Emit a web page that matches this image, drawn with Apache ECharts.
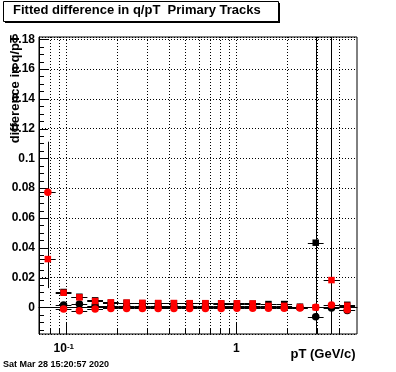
<!DOCTYPE html>
<html><head><meta charset="utf-8">
<script src="https://cdn.jsdelivr.net/npm/echarts@6/dist/echarts.min.js"></script>
<style>html,body{margin:0;padding:0;background:#fff}#c{width:396px;height:372px}</style>
</head><body><div id="c"></div>
<script>
// ---- data ----
const BIN_EDGES = [0.07, 0.08665, 0.10727, 0.13281, 0.16442, 0.2035, 0.25196, 0.31188, 0.38604, 0.47793, 0.5916, 0.73227, 0.90662, 1.1223, 1.3895, 1.72, 2.1294, 2.6362, 3.2637, 4.0404, 5.0];
const BIN_CENTERS = [0.0779, 0.0964, 0.1194, 0.1478, 0.1829, 0.2264, 0.2803, 0.347, 0.4296, 0.5318, 0.6583, 0.8149, 1.0087, 1.2489, 1.546, 1.9138, 2.3692, 2.9329, 3.6306, 4.4944];

const BLACK_SQ     = [null, 0.0103, 0.0071, 0.0047, 0.0031, 0.0030, 0.0028, 0.0027, 0.0027, 0.0026, 0.0026, 0.0025, 0.0025, 0.0024, 0.0022, 0.0022, 0.0004, 0.0434, null, 0.0017];
const BLACK_SQ_ERR = [null, 0.0012, 0.0008, 0.0006, 0.0005, 0.0005, 0.0005, 0.0005, 0.0005, 0.0005, 0.0005, 0.0005, 0.0005, 0.0006, 0.0006, 0.0007, 0.0008, 0.15, null, 0.0012];
const BLACK_CI     = [null, 0.0015, 0.0022, 0.0012, 0.0009, 0.0009, 0.0009, 0.0009, 0.0009, 0.0009, 0.0009, 0.0009, 0.0009, 0.0009, 0.0000, 0.0000, -0.0001, -0.0063, -0.0005, -0.0021];
const BLACK_CI_ERR = [null, 0.0010, 0.0008, 0.0005, 0.0004, 0.0004, 0.0004, 0.0004, 0.0004, 0.0004, 0.0004, 0.0004, 0.0004, 0.0005, 0.0005, 0.0006, 0.0008, 0.0015, 0.0015, 0.0012];
const RED_SQ       = [0.0324, 0.0098, 0.0067, 0.0042, 0.0033, 0.0032, 0.0030, 0.0029, 0.0029, 0.0028, 0.0028, 0.0027, 0.0027, 0.0026, 0.0010, 0.0010, 0.0002, 0.0000, 0.0183, 0.0011];
const RED_SQ_ERR   = [0.0195, 0.0012, 0.0008, 0.0006, 0.0005, 0.0005, 0.0005, 0.0005, 0.0005, 0.0005, 0.0005, 0.0005, 0.0005, 0.0006, 0.0006, 0.0007, 0.0008, 0.0012, 0.18, 0.0012];
const RED_CI       = [0.0772, -0.0011, -0.0023, -0.0011, -0.0007, -0.0007, -0.0007, -0.0007, -0.0007, -0.0007, -0.0007, -0.0007, -0.0006, -0.0006, -0.0006, -0.0006, -0.0005, 0.0000, 0.0015, -0.0017];
const RED_CI_ERR   = [0.034, 0.0010, 0.0008, 0.0005, 0.0004, 0.0004, 0.0004, 0.0004, 0.0004, 0.0004, 0.0004, 0.0004, 0.0004, 0.0005, 0.0005, 0.0006, 0.0008, 0.0012, 0.0015, 0.0012];

const Y_TICK_LABELS = ['0', '0.02', '0.04', '0.06', '0.08', '0.1', '0.12', '0.14', '0.16', '0.18'];
const Y_MAJOR_TICKS = [0, 0.02, 0.04, 0.06, 0.08, 0.1, 0.12, 0.14, 0.16, 0.18];
const Y_MINOR_TICKS = [-0.015, -0.01, -0.005, 0.005, 0.01, 0.015, 0.025, 0.03, 0.035, 0.045, 0.05, 0.055, 0.065, 0.07, 0.075, 0.085, 0.09, 0.095, 0.105, 0.11, 0.115, 0.125, 0.13, 0.135, 0.145, 0.15, 0.155, 0.165, 0.17, 0.175];
const X_MAJOR_TICKS = [0.1, 1];
const X_MINOR_TICKS = [0.08, 0.09, 0.2, 0.3, 0.4, 0.5, 0.6, 0.7, 0.8, 0.9, 2, 3, 4];
const X_TICK_LABELS = {'0.1': '{b|10}{s|-1}', '1': '{b|1}'};

const TITLE = 'Fitted difference in q/pT  Primary Tracks';
const X_TITLE = 'pT (GeV/c)';
const Y_TITLE = 'difference in q/pT';
const DATE = 'Sat Mar 28 15:20:57 2020';

// ---- config ----
const X_MIN = 0.0691, X_MAX = 5.13, Y_MIN = -0.0179, Y_MAX = 0.1815;
const FONT = '"Liberation Sans", Arial, Helvetica, sans-serif';

function pts(vals) {
  const out = [];
  vals.forEach((v, i) => { if (v !== null) out.push([BIN_CENTERS[i], v]); });
  return out;
}
function errPts(vals, errs) {
  const out = [];
  vals.forEach((v, i) => { if (v !== null) out.push([BIN_CENTERS[i], v, BIN_EDGES[i], BIN_EDGES[i + 1], errs[i]]); });
  return out;
}
function errSeries(vals, errs) {
  return {
    type: 'custom', clip: true, silent: true, z: 3,
    data: errPts(vals, errs), encode: {x: 0, y: 1},
    renderItem(params, api) {
      const x = api.value(0), y = api.value(1), lo = api.value(2), hi = api.value(3), e = api.value(4);
      const pL = api.coord([lo, y]), pR = api.coord([hi, y]);
      const pT = api.coord([x, y + e]), pB = api.coord([x, y - e]);
      const yy = Math.round(pL[1]) + 0.5, xx = Math.round(pT[0]) + 0.5;
      return {type: 'group', children: [
        {type: 'line', shape: {x1: pL[0], y1: yy, x2: pR[0], y2: yy}, style: {stroke: '#000', lineWidth: 1}},
        {type: 'line', shape: {x1: xx, y1: pT[1], x2: xx, y2: pB[1]}, style: {stroke: '#000', lineWidth: 1}}
      ]};
    }
  };
}
function markSeries(vals, symbol, size, color, z) {
  return {type: 'scatter', data: pts(vals), symbol, symbolSize: size, z, silent: true,
    itemStyle: {color, borderWidth: 0, opacity: 1}};
}

const xTickData = X_MAJOR_TICKS.map(v => [v, Y_MIN, 1]).concat(X_MINOR_TICKS.map(v => [v, Y_MIN, 0]));
const yTickData = Y_MAJOR_TICKS.map(v => [X_MIN, v, 1]).concat(Y_MINOR_TICKS.map(v => [X_MIN, v, 0]));

const chart = echarts.init(document.getElementById('c'), null, {renderer: 'canvas'});
chart.setOption({
  animation: false,
  backgroundColor: '#fff',
  grid: {left: 39, right: 39, top: 37, bottom: 38, show: true, borderColor: '#000', borderWidth: 1, backgroundColor: 'transparent'},
  xAxis: {
    type: 'log', logBase: 10, min: X_MIN, max: X_MAX,
    axisLine: {show: true, lineStyle: {color: '#000', width: 1}},
    axisTick: {show: false}, splitLine: {show: false}, minorTick: {show: false},
    axisLabel: {
      margin: 9, color: '#000', fontFamily: FONT, fontWeight: 'bold', fontSize: 12, lineHeight: 12,
      formatter(v) {
        for (const k in X_TICK_LABELS) { if (Math.abs(v - Number(k)) < 1e-6 * Number(k)) return X_TICK_LABELS[k]; }
        return '';
      },
      rich: {
        b: {fontFamily: FONT, fontWeight: 'bold', fontSize: 12, lineHeight: 12, color: '#000'},
        s: {fontFamily: FONT, fontWeight: 'bold', fontSize: 8, lineHeight: 8, color: '#000', verticalAlign: 'top', padding: [0, 5, 5, 0]}
      }
    }
  },
  yAxis: {
    type: 'value', min: Y_MIN, max: Y_MAX, splitNumber: 10,
    axisLine: {show: true, lineStyle: {color: '#000', width: 1}},
    axisTick: {show: false}, minorTick: {show: false},
    splitLine: {show: true, lineStyle: {color: '#000', width: 1, type: [1, 2]}},
    axisLabel: {
      margin: 4, color: '#000', fontFamily: FONT, fontWeight: 'bold', fontSize: 12,
      formatter(v) {
        const r = Math.round(v / 0.02);
        if (Math.abs(v - r * 0.02) > 1e-6 || r < 0 || r >= Y_TICK_LABELS.length) return '';
        return Y_TICK_LABELS[r];
      }
    }
  },
  series: [
    { // x grid lines + ticks
      type: 'custom', clip: true, silent: true, z: 1, data: xTickData, encode: {x: 0, y: 1},
      renderItem(params, api) {
        const p = api.coord([api.value(0), api.value(1)]);
        const cs = params.coordSys;
        const x = Math.round(p[0]) + 0.5, bottom = cs.y + cs.height;
        const len = api.value(2) ? 11 : 5.5;
        return {type: 'group', children: [
          {type: 'line', shape: {x1: x, y1: cs.y, x2: x, y2: bottom}, style: {stroke: '#000', lineWidth: 1, lineDash: [1, 2]}},
          {type: 'line', shape: {x1: x, y1: bottom, x2: x, y2: bottom - len}, style: {stroke: '#000', lineWidth: 1}}
        ]};
      }
    },
    { // y ticks
      type: 'custom', clip: false, silent: true, z: 1, data: yTickData, encode: {x: 0, y: 1},
      renderItem(params, api) {
        const p = api.coord([api.value(0), api.value(1)]);
        const cs = params.coordSys;
        const y = Math.round(p[1]) + 0.5;
        const len = api.value(2) ? 9 : 5;
        return {type: 'line', shape: {x1: cs.x, y1: y, x2: cs.x + len, y2: y}, style: {stroke: '#000', lineWidth: 1}};
      }
    },
    errSeries(BLACK_SQ, BLACK_SQ_ERR),
    errSeries(BLACK_CI, BLACK_CI_ERR),
    errSeries(RED_SQ, RED_SQ_ERR),
    errSeries(RED_CI, RED_CI_ERR),
    markSeries(BLACK_SQ, 'rect', 6.5, '#000', 5),
    markSeries(BLACK_CI, 'circle', 7.5, '#000', 6),
    markSeries(RED_SQ, 'rect', 6.5, '#ff0000', 7),
    markSeries(RED_CI, 'circle', 7.5, '#ff0000', 8)
  ],
  graphic: [
    {type: 'rect', z: 10, silent: true, shape: {x: 5, y: 3, width: 275, height: 20}, style: {fill: '#000'}},
    {type: 'rect', z: 11, silent: true, shape: {x: 3.5, y: 1.5, width: 275, height: 20}, style: {fill: '#fff', stroke: '#000', lineWidth: 1}},
    {type: 'text', z: 12, silent: true, x: 13, y: 10.5, style: {text: TITLE, font: 'bold 13px ' + FONT, fill: '#000', textAlign: 'left', textVerticalAlign: 'middle'}},
    {type: 'text', z: 12, silent: true, x: 355.5, y: 354.8, style: {text: X_TITLE, font: 'bold 13px ' + FONT, fill: '#000', textAlign: 'right', textVerticalAlign: 'middle'}},
    {type: 'text', z: 12, silent: true, x: 15.5, y: 35, rotation: Math.PI / 2, style: {text: Y_TITLE, font: 'bold 13px ' + FONT, fill: '#000', textAlign: 'right', textVerticalAlign: 'middle'}},
    {type: 'text', z: 12, silent: true, x: 3, y: 364.5, style: {text: DATE, font: 'bold 9px ' + FONT, fill: '#000', textAlign: 'left', textVerticalAlign: 'middle'}}
  ]
});
</script></body></html>
